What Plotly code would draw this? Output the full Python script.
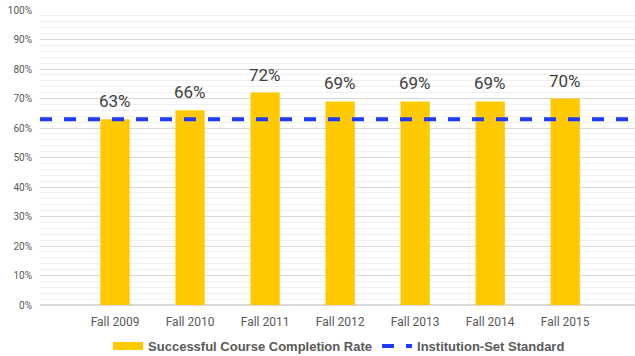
import plotly.graph_objects as go

terms = ["Fall 2009", "Fall 2010", "Fall 2011", "Fall 2012", "Fall 2013", "Fall 2014", "Fall 2015"]
completion_rate = [63, 66, 72, 69, 69, 69, 70]
institution_standard = 63

BAR_COLOR = "#FFC900"
LINE_COLOR = "#1F3BFF"
GRAY = "#595959"

x_pos = list(range(len(terms)))
x_range = [-1.0, len(terms) - 0.07]

fig = go.Figure()

fig.add_trace(go.Bar(
    x=x_pos,
    y=completion_rate,
    width=0.39,
    marker=dict(color=BAR_COLOR, line=dict(width=0)),
    showlegend=False,
    hoverinfo="skip",
))

# value labels above each bar
for xi, v in zip(x_pos, completion_rate):
    fig.add_annotation(
        x=xi, y=v, text=f"{v}%", showarrow=False,
        yanchor="bottom", yshift=6,
        font=dict(family="Roboto", size=17, color="#404040"),
    )

# legend entry for the bars, drawn as a thick swatch
fig.add_trace(go.Scatter(
    x=[None], y=[None], mode="lines",
    line=dict(color=BAR_COLOR, width=8),
    name="Successful Course Completion Rate",
))

fig.add_trace(go.Scatter(
    x=x_range,
    y=[institution_standard, institution_standard],
    mode="lines",
    line=dict(color=LINE_COLOR, width=4, dash="dash"),
    name="Institution-Set Standard",
    hoverinfo="skip",
))

fig.update_layout(
    width=635, height=356,
    margin=dict(l=40, r=0, t=10, b=51, autoexpand=False),
    paper_bgcolor="white",
    plot_bgcolor="white",
    legend=dict(
        orientation="h",
        xref="container", yref="container",
        x=0.534, xanchor="center",
        y=0.028, yanchor="middle",
        font=dict(family="Liberation Sans", size=13, color=GRAY, weight="bold"),
        itemwidth=30,
        tracegroupgap=0,
    ),
    xaxis=dict(
        range=x_range,
        tickmode="array",
        tickvals=x_pos,
        ticktext=terms,
        tickfont=dict(family="Roboto", size=12, color=GRAY),
        ticklabelstandoff=8,
        showgrid=False,
        zeroline=False,
        showline=False,
        ticks="",
        automargin=False,
    ),
    yaxis=dict(
        range=[0, 100],
        dtick=10,
        ticksuffix="%",
        tickfont=dict(family="Roboto", size=10, color=GRAY),
        ticklabelstandoff=7,
        showgrid=True,
        gridcolor="#D9D9D9",
        gridwidth=1,
        minor=dict(dtick=2, showgrid=True, gridcolor="#EFEFEF", gridwidth=1),
        zeroline=True,
        zerolinecolor="#D9D9D9",
        showline=False,
        ticks="",
        automargin=False,
    ),
)

fig.write_html("out.html")
